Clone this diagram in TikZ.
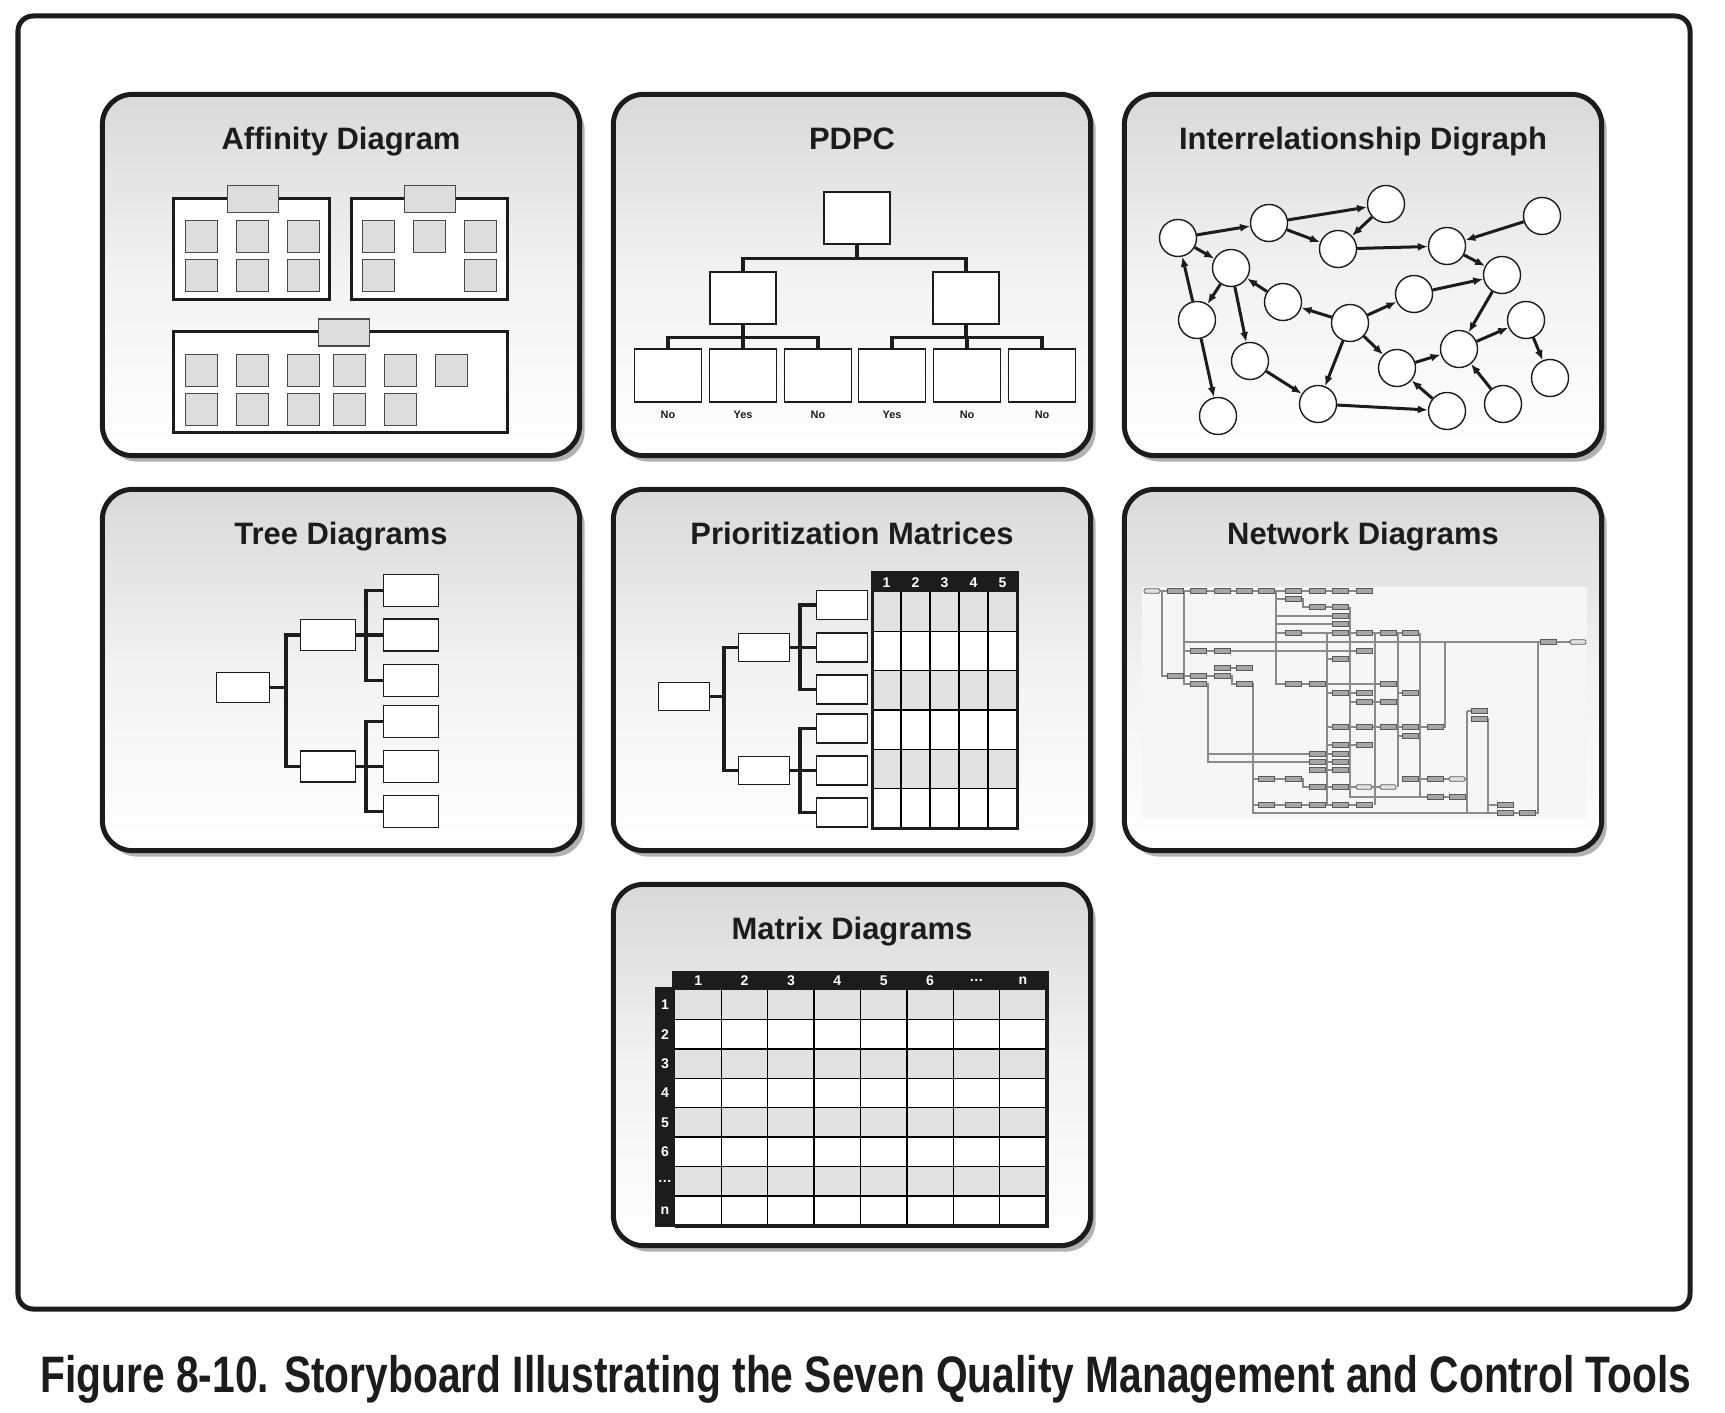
\documentclass[tikz,border=0pt]{standalone}
\usepackage{fontspec}
\setmainfont{Liberation Sans}
\usepackage{graphicx}
\usetikzlibrary{arrows.meta, positioning, calc, shadows}
\definecolor{InkBlack}{HTML}{1C1C1C}
\definecolor{PanelGray}{HTML}{D9D9D9}
\definecolor{CardGray}{HTML}{DDDDDD}
\definecolor{RowGray}{HTML}{E1E1E1}
\definecolor{NetLine}{HTML}{8A8A8A}
\definecolor{NetBox}{HTML}{A6A6A6}
\definecolor{NetPaper}{HTML}{F6F6F6}

\begin{document}
\begin{tikzpicture}[x=0.01cm, y=-0.01cm,
    panel/.style={draw=InkBlack, line width=0.05cm, rounded corners=0.3cm,
      top color=PanelGray, bottom color=white, middle color=black!5,
      minimum width=4.77cm, minimum height=3.61cm,
      drop shadow={shadow xshift=0.05cm, shadow yshift=-0.06cm, fill=black, opacity=0.3}},
    paneltitle/.style={anchor=base, inner sep=0pt, text=InkBlack,
      font=\fontsize{8.8}{10}\selectfont\bfseries},
    cluster/.style={draw=InkBlack, line width=0.03cm, fill=white,
      minimum width=1.56cm, minimum height=1.01cm},
    clustertab/.style={draw=InkBlack!80, line width=0.3pt, fill=CardGray,
      minimum width=0.51cm, minimum height=0.27cm},
    card/.style={draw=InkBlack!80, line width=0.3pt, fill=CardGray,
      inner sep=0pt, minimum size=0.32cm},
    box/.style={draw=InkBlack, line width=0.4pt, fill=white, inner sep=0pt},
    link/.style={draw=InkBlack, line width=0.035cm},
    answer/.style={inner sep=0pt, text=InkBlack, font=\fontsize{3.1}{4}\selectfont\bfseries},
    bubble/.style={circle, draw=InkBlack, line width=0.4pt, fill=white,
      inner sep=0pt, minimum size=0.37cm},
    rel/.style={draw=InkBlack, line width=0.03cm, -{Latex[length=0.1cm, width=0.08cm]}},
    colhead/.style={inner sep=0pt, text=white, font=\fontsize{4}{5}\selectfont\bfseries},
    netbox/.style={draw=black!65, line width=0.25pt, fill=NetBox,
      inner sep=0pt, minimum width=0.16cm, minimum height=0.045cm},
    netend/.style={netbox, fill=black!12, rounded corners=0.4pt},
    netline/.style={draw=NetLine, line width=0.35pt}]

  \fill[white] (0,0) rectangle (1725,1413);
  \draw[InkBlack, line width=0.05cm, rounded corners=0.15cm] (18,16) rectangle (1690,1309);

  \node[panel] (affinity) at (341,275) {};
  \node[panel] (pdpc) at (852,275) {};
  \node[panel] (digraph) at (1363,275) {};
  \node[panel] (tree) at (341,670) {};
  \node[panel] (prio) at (852,670) {};
  \node[panel] (network) at (1363,670) {};
  \node[panel] (matrices) at (852,1065) {};
  \foreach \p/\t in {affinity/Affinity Diagram, pdpc/PDPC, digraph/Interrelationship Digraph,
      tree/Tree Diagrams, prio/Prioritization Matrices, network/Network Diagrams,
      matrices/Matrix Diagrams}
    \node[paneltitle] (\p-title) at ($(\p.north)+(0,58)$) {\t};

  \node[cluster] (clusterA) at (251.5,249) {};
  \node[cluster] (clusterB) at (429.5,249) {};
  \node[cluster, minimum width=3.34cm] (clusterC) at (340.5,382) {};
  \node[clustertab] (tabA) at (253,199) {};
  \node[clustertab] (tabB) at (430,199) {};
  \node[clustertab] (tabC) at (344,332.5) {};
  \foreach \x/\y [count=\k] in {201.5/236.5, 252.5/236.5, 303.5/236.5,
      201.5/275.5, 252.5/275.5, 303.5/275.5}
    \node[card] (cardA\k) at (\x,\y) {};
  \foreach \x/\y [count=\k] in {378.5/236.5, 429.5/236.5, 480.5/236.5, 378.5/275.5, 480.5/275.5}
    \node[card] (cardB\k) at (\x,\y) {};
  \foreach \x/\y [count=\k] in {201.5/370.5, 252.5/370.5, 303.5/370.5, 349.5/370.5, 400.5/370.5,
      451.5/370.5, 201.5/409.5, 252.5/409.5, 303.5/409.5, 349.5/409.5, 400.5/409.5}
    \node[card] (cardC\k) at (\x,\y) {};

  \node[box, minimum width=0.66cm, minimum height=0.52cm] (pdpcTop) at (857,218) {};
  \node[box, minimum width=0.66cm, minimum height=0.52cm] (pdpcL) at (743,298) {};
  \node[box, minimum width=0.66cm, minimum height=0.52cm] (pdpcR) at (966,298) {};
  \foreach \x [count=\k] in {668,743,818,892,967,1042}
    \node[box, minimum width=0.67cm, minimum height=0.53cm] (pdpc\k) at (\x,375.5) {};
  \draw[link] (pdpcTop.south) -- ++(0,14) -| (pdpcL.north);
  \draw[link] (pdpcTop.south) -- ++(0,14) -| (pdpcR.north);
  \foreach \k in {1,2,3}
    \draw[link] (pdpcL.south) -- ++(0,13) -| (pdpc\k.north);
  \foreach \k in {4,5,6}
    \draw[link] (pdpcR.south) -- ++(0,13) -| (pdpc\k.north);
  \foreach \t [count=\k] in {No,Yes,No,Yes,No,No}
    \node[answer, below=0.08cm of pdpc\k] (answer\k) {\t};

  \foreach \x/\y [count=\k] in {1178/238, 1269/223, 1386/204, 1338/249, 1447/246, 1542/216,
      1231/268, 1502/275, 1283/302, 1414/294, 1197/320, 1350/323, 1526/320, 1459/349,
      1250/361, 1397/368, 1550/378, 1318/404, 1447/411, 1503/404, 1218/416}
    \node[bubble] (d\k) at (\x,\y) {};
  \foreach \a/\b in {1/2, 2/3, 3/4, 2/4, 4/5, 6/5, 5/8, 1/7, 11/1, 7/11, 9/7, 7/15, 11/21,
      12/9, 12/10, 10/8, 12/16, 12/18, 15/18, 18/19, 8/14, 16/14, 14/13, 13/17, 19/16, 20/14}
    \draw[rel] (d\a) -- (d\b);

  \node[box, minimum width=0.53cm, minimum height=0.30cm] (treeRoot) at (243,687.5) {};
  \node[box, minimum width=0.55cm, minimum height=0.31cm] (treeA) at (328,635) {};
  \node[box, minimum width=0.55cm, minimum height=0.31cm] (treeB) at (328,766.5) {};
  \foreach \y [count=\k] in {590.5,635,680.5,721.5,766.5,811.5}
    \node[box, minimum width=0.55cm, minimum height=0.32cm] (treeLeaf\k) at (411,\y) {};
  \draw[link] (treeRoot.east) -- ++(16,0) |- (treeA.west);
  \draw[link] (treeRoot.east) -- ++(16,0) |- (treeB.west);
  \foreach \k in {1,2,3}
    \draw[link] (treeA.east) -- ++(10,0) |- (treeLeaf\k.west);
  \foreach \k in {4,5,6}
    \draw[link] (treeB.east) -- ++(10,0) |- (treeLeaf\k.west);

  \node[box, minimum width=0.51cm, minimum height=0.28cm] (prioRoot) at (684,696.5) {};
  \node[box, minimum width=0.51cm, minimum height=0.28cm] (prioA) at (764,647.5) {};
  \node[box, minimum width=0.51cm, minimum height=0.28cm] (prioB) at (764,770.5) {};
  \foreach \y [count=\k] in {605,647.5,689.5,728.5,770.5,812.5}
    \node[box, minimum width=0.51cm, minimum height=0.29cm] (prioLeaf\k) at (842,\y) {};
  \draw[link] (prioRoot.east) -- ++(14,0) |- (prioA.west);
  \draw[link] (prioRoot.east) -- ++(14,0) |- (prioB.west);
  \foreach \k in {1,2,3}
    \draw[link] (prioA.east) -- ++(10,0) |- (prioLeaf\k.west);
  \foreach \k in {4,5,6}
    \draw[link] (prioB.east) -- ++(10,0) |- (prioLeaf\k.west);
  \fill[white] (872,592) rectangle (1017,828);
  \fill[InkBlack] (872,573) rectangle (1017,592);
  \foreach \k in {0,2,4}
    \fill[RowGray] (872,{592+39.33*\k}) rectangle (1017,{592+39.33*(\k+1)});
  \foreach \k in {1,...,4}
    \draw[line width=0.4pt] ({872+29*\k},592) -- ({872+29*\k},828);
  \foreach \k in {1,...,5}
    \draw[line width=0.4pt] (872,{592+39.33*\k}) -- (1017,{592+39.33*\k});
  \draw[InkBlack, line width=0.03cm] (872,573) rectangle (1017,828);
  \foreach \n in {1,...,5}
    \node[colhead] (prioHead\n) at ({857.5+29*\n},583) {\n};

  \fill[NetPaper] (1142,587) rectangle (1587,818);
  \draw[netline]
    (1152,591) -- (1364,591)
    (1162,591) |- (1175,676)
    (1184,591) |- (1198,684)
    (1184,642) -- (1578,642)
    (1184,651) -- (1364,651)
    (1175,676) -- (1232,676) |- (1244,684)
    (1222,668) -- (1244,668)
    (1198,684) -| (1208,762) -- (1340,762)
    (1208,754) -- (1340,754)
    (1276,591) |- (1317,684)
    (1276,599) -- (1303,599) |- (1340,607)
    (1276,616) -- (1340,616)
    (1276,624) -- (1340,624)
    (1276,633) -- (1410,633)
    (1244,684) -| (1253,813) -- (1527,813)
    (1253,779) -- (1303,779) |- (1388,787)
    (1253,805) -- (1364,805)
    (1317,684) -- (1388,684)
    (1327,633) -- (1327,805)
    (1350,607) |- (1457,797)
    (1375,633) -- (1375,805)
    (1398,633) -- (1398,787)
    (1420,633) -- (1420,797)
    (1445,642) |- (1340,727)
    (1410,779) -- (1467,779)
    (1467,711) -- (1467,813)
    (1467,711) -- (1479,711)
    (1479,719) -| (1488,813)
    (1488,805) -- (1505,805)
    (1527,813) -| (1538,642)
    (1340,693) -- (1364,693)
    (1350,702) -- (1388,702)
    (1398,693) -- (1410,693)
    (1398,736) -- (1410,736)
    (1340,745) -- (1364,745)
    (1317,770) -- (1340,770)
    foreach \y in {659,693,727,745,770,787,805} { (1327,\y) -- (1340,\y) };
  \foreach \x/\y [count=\k] in {1175/591, 1198/591, 1222/591, 1244/591, 1266/591, 1293/591,
      1317/591, 1340/591, 1364/591, 1293/599, 1317/607, 1340/607, 1340/616, 1340/624,
      1293/633, 1340/633, 1364/633, 1388/633, 1410/633, 1548/642, 1198/651, 1222/651,
      1364/651, 1340/659, 1222/668, 1244/668, 1175/676, 1198/676, 1222/676, 1198/684,
      1244/684, 1293/684, 1317/684, 1388/684, 1340/693, 1364/693, 1410/693, 1364/702,
      1388/702, 1479/711, 1479/719, 1340/727, 1364/727, 1388/727, 1410/727, 1435/727,
      1410/736, 1340/745, 1364/745, 1317/754, 1340/754, 1317/762, 1340/762, 1317/770,
      1340/770, 1266/779, 1293/779, 1410/779, 1435/779, 1317/787, 1340/787, 1435/797,
      1457/797, 1266/805, 1293/805, 1317/805, 1340/805, 1364/805, 1505/805, 1505/813,
      1527/813}
    \node[netbox] (net\k) at (\x,\y) {};
  \foreach \x/\y [count=\k] in {1152/591, 1578/642, 1457/779, 1364/787, 1388/787}
    \node[netend] (netEnd\k) at (\x,\y) {};

  \fill[white] (675,990) rectangle (1046,1225);
  \fill[InkBlack] (672,971) rectangle (1049,990);
  \fill[InkBlack] (655,987) rectangle (675,1227);
  \foreach \k in {0,2,4,6}
    \fill[RowGray] (675,{990+29.4*\k}) rectangle (1046,{990+29.4*(\k+1)});
  \foreach \k in {1,...,7} {
    \draw[line width=0.4pt] ({675+46.375*\k},990) -- ({675+46.375*\k},1225);
    \draw[line width=0.4pt] (675,{990+29.4*\k}) -- (1046,{990+29.4*\k});
  }
  \draw[InkBlack, line width=0.035cm] (1047,990) -- (1047,1226) -- (675,1226);
  \foreach \t [count=\k] in {1,2,3,4,5,6,\ldots,n} {
    \node[colhead] (matCol\k) at ({651.8+46.375*\k},980.5) {\t};
    \node[colhead] (matRow\k) at (665,{975.3+29.4*\k}) {\t};
  }

  \node[inner sep=0pt, text=InkBlack] (caption) at (866,1379)
    {\resizebox*{16.5cm}{0.48cm}{\bfseries Figure 8-10. Storyboard Illustrating the Seven Quality Management and Control Tools}};
\end{tikzpicture}
\end{document}
